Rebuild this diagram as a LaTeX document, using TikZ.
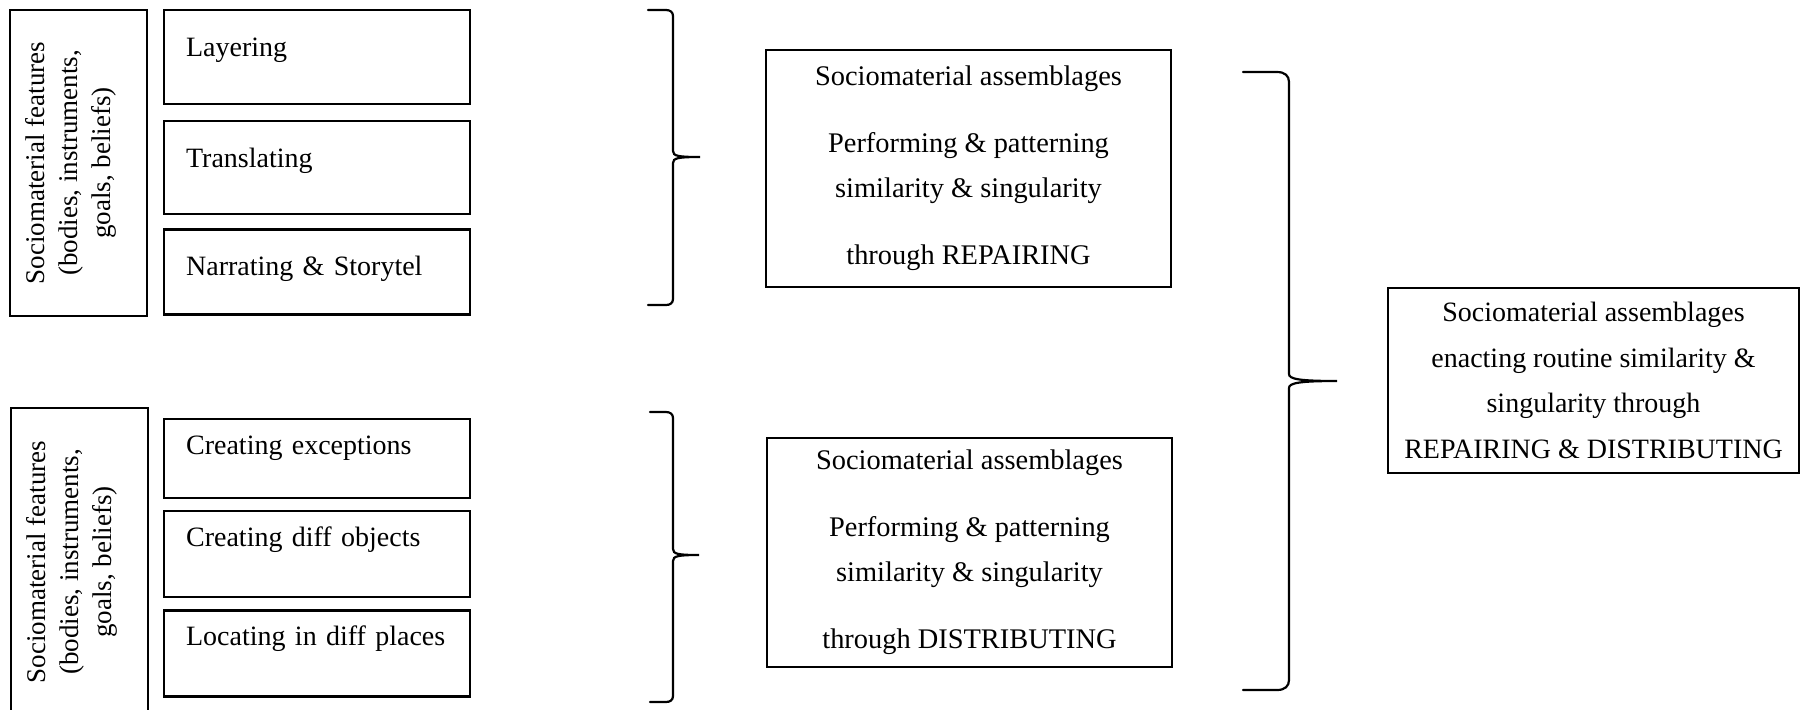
\documentclass[tikz,border=0pt]{standalone}
\usepackage{fontspec}
\setmainfont{Liberation Serif}
\usepackage{tikz}
\usetikzlibrary{positioning}
\tikzset{
  sidebox/.style={draw,line width=1.1pt,minimum width=68.5pt,inner sep=0pt},
  sidetext/.style={rotate=90,align=center,inner sep=0pt,font=\fontsize{13.5}{16.5}\selectfont},
  featbox/.style={draw,line width=1.1pt,text width=131pt,inner xsep=11pt,inner ysep=0pt,align=left,font=\fontsize{14}{16.5}\selectfont},
  topfeat/.style={featbox,text height=23pt,text depth=#1},
  lowfeat/.style={featbox,text height=17.5pt,text depth=#1},
  assembox/.style={draw,line width=1.1pt,minimum width=202.5pt,align=center,inner sep=0pt,font=\fontsize{14.2}{22.5}\selectfont},
  finalbox/.style={assembox,minimum width=205.5pt,minimum height=92.5pt,font=\fontsize{14}{22.8}\selectfont},
  curly/.style={line width=1.1pt,line cap=round}
}
\begin{document}
\begin{tikzpicture}[x=0.5pt,y=-0.5pt,node distance=8pt]
\useasboundingbox (0,0) rectangle (1802,709);
\clip (0,0) rectangle (1802,709);
\node[sidebox,minimum height=153pt] (featA) at (78.5,163) {};
\node[sidetext] (featAtext) at ([xshift=-4pt]featA.center) {Sociomaterial features\\(bodies, instruments,\\goals, beliefs)};
\node[topfeat=24pt,anchor=north west] (layer) at (163,9) {Layering};
\node[topfeat=23.5pt,below=7.5pt of layer] (transl) {Translating};
\node[topfeat=19.5pt,below=6.5pt of transl] (narr) {Narrating \& Storytel};
\node[sidebox,minimum height=154pt] (featB) at (79.5,562) {};
\node[sidetext] (featBtext) at ([xshift=-4pt]featB.center) {Sociomaterial features\\(bodies, instruments,\\goals, beliefs)};
\node[lowfeat=22pt,anchor=north west] (except) at (163,418) {Creating exceptions};
\node[lowfeat=25.5pt,below=5.5pt of except] (objects) {Creating diff objects};
\node[lowfeat=25.5pt,below=5.5pt of objects] (places) {Locating in diff places};
\node[assembox,minimum height=118.5pt] (repair) at (968.5,168.5) {Sociomaterial assemblages\\[11pt]Performing \& patterning\\similarity \& singularity\\[11pt]through REPAIRING};
\node[assembox,minimum height=114.5pt] (distrib) at (969.5,552.5) {Sociomaterial assemblages\\[11pt]Performing \& patterning\\similarity \& singularity\\[11pt]through DISTRIBUTING};
\node[finalbox] (enact) at (1593.5,380.5) {Sociomaterial assemblages\\enacting routine similarity \&\\singularity through\\REPAIRING \& DISTRIBUTING};
\coordinate (brA) at (648,10);
\coordinate (brB) at (650,412);
\coordinate (brC) at (1243,72);
\draw[curly] (brA) -- ++(18,0) .. controls +(4,0) and +(0,-4) .. ++(7,6) -- ++(0,135)
  .. controls +(0,5) and +(-22,0) .. ++(27,6) .. controls +(-22,0) and +(0,-5) .. ++(-27,6)
  -- ++(0,136) .. controls +(0,4) and +(4,0) .. ++(-7,6) -- ++(-18,0);
\draw[curly] (brB) -- ++(16,0) .. controls +(4,0) and +(0,-4) .. ++(7,6) -- ++(0,131)
  .. controls +(0,5) and +(-21,0) .. ++(26,6) .. controls +(-21,0) and +(0,-5) .. ++(-26,6)
  -- ++(0,135) .. controls +(0,4) and +(4,0) .. ++(-7,6) -- ++(-16,0);
\draw[curly] (brC) -- ++(34,0) .. controls +(8,0) and +(0,-6) .. ++(12,10) -- ++(0,292)
  .. controls +(0,5) and +(-38,0) .. ++(48,7) .. controls +(-38,0) and +(0,-5) .. ++(-48,7)
  -- ++(0,292) .. controls +(0,6) and +(8,0) .. ++(-12,10) -- ++(-34,0);
\end{tikzpicture}
\end{document}
